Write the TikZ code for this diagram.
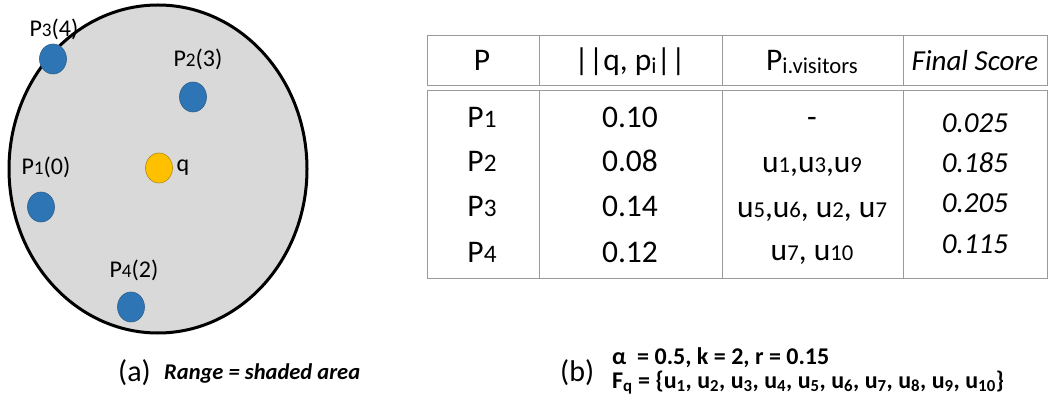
\documentclass[tikz,border=0pt]{standalone}
\usepackage{fontspec}
\setmainfont{Carlito}
\usepackage{graphicx}
\definecolor{dotblue}{HTML}{2E75B6}
\definecolor{dotblueline}{HTML}{2F5F8A}
\definecolor{qyellow}{HTML}{FFC000}
\definecolor{qline}{HTML}{B08A10}
\definecolor{rangegray}{HTML}{D9D9D9}
\definecolor{tabline}{HTML}{9A9A9A}
\newcommand{\dg}[1]{\scalebox{0.8}{#1}}
\newcommand{\dgs}[1]{\scalebox{0.72}{#1}}
\newcommand{\lw}[1]{\raisebox{-2.5pt}{\scalebox{0.72}{#1}}}
\begin{document}
\begin{tikzpicture}[x=1pt,y=-1pt,
  pdot/.style={fill=dotblue,draw=dotblueline,line width=0.6pt},
  qdot/.style={fill=qyellow,draw=qline,line width=0.6pt},
  plabel/.style={anchor=base,inner sep=0pt,font=\fontsize{24}{28}\selectfont},
  tabtext/.style={anchor=base,inner sep=0pt,font=\fontsize{31.5}{34}\selectfont},
  tabit/.style={anchor=base,inner sep=0pt,font=\fontsize{29}{34}\selectfont\itshape},
  tabbox/.style={draw=tabline,line width=0.8pt},
  capt/.style={anchor=base west,inner sep=0pt,font=\fontsize{30}{34}\selectfont},
  capb/.style={anchor=base west,inner sep=0pt,font=\fontsize{24}{28}\selectfont\bfseries}
]
\useasboundingbox (0,0) rectangle (1051,403);
% ---- (a) range ----
\draw[fill=rangegray,line width=3pt] (158,169) ellipse [x radius=149,y radius=164];
\path[pdot] (53,59) ellipse [x radius=13.5,y radius=15];
\path[pdot] (193,97) ellipse [x radius=13.5,y radius=15];
\path[pdot] (41,207) ellipse [x radius=13.5,y radius=15];
\path[pdot] (131,307) ellipse [x radius=13.5,y radius=15];
\path[qdot] (159,168) ellipse [x radius=13.5,y radius=15];
\node[plabel] (l3) at (54,37) {P\dg{3}(4)};
\node[plabel] (l2) at (198,67) {P\dg{2}(3)};
\node[plabel] (l1) at (46,175) {P\dg{1}(0)};
\node[plabel] (lq) at (183,172) {q};
\node[plabel] (l4) at (134,277) {P\dg{4}(2)};
% ---- (b) table ----
\draw[tabbox] (427,35) rectangle (1047,85);
\draw[tabbox] (539,35) -- (539,85) (722,35) -- (722,85) (903,35) -- (903,85);
\draw[tabbox] (427,90) rectangle (1047,278);
\draw[tabbox] (539,90) -- (539,278) (722,90) -- (722,278) (903,90) -- (903,278);
\node[tabtext] (h1) at (482,71) {P};
\node[tabtext] (h2) at (630,71) {||q, p\lw{i}||};
\node[tabtext] (h3) at (812,71) {P\lw{i.visitors}};
\node[tabit] (h4) at (975,71) {Final Score};
\node[tabtext] (a1) at (482,128) {P\dg{1}};
\node[tabtext] (a2) at (482,172) {P\dg{2}};
\node[tabtext] (a3) at (482,217) {P\dg{3}};
\node[tabtext] (a4) at (482,262) {P\dg{4}};
\node[tabtext] (b1) at (630,128) {0.10};
\node[tabtext] (b2) at (630,172) {0.08};
\node[tabtext] (b3) at (630,217) {0.14};
\node[tabtext] (b4) at (630,262) {0.12};
\node[tabtext] (c1) at (812,128) {-};
\node[tabtext] (c2) at (812,173) {u\dgs{1},u\dgs{3},u\dgs{9}};
\node[tabtext] (c3) at (812,218) {u\dgs{5},u\dgs{6}, u\dgs{2}, u\dgs{7}};
\node[tabtext] (c4) at (812,260) {u\dgs{7}, u\dgs{10}};
\node[tabit] (d1) at (975,133) {0.025};
\node[tabit] (d2) at (975,173) {0.185};
\node[tabit] (d3) at (975,213) {0.205};
\node[tabit] (d4) at (975,254) {0.115};
% ---- captions ----
\node[capt] (ca) at (118,381) {(a)};
\node[anchor=base west,inner sep=0pt,font=\fontsize{22.5}{26}\selectfont\bfseries\itshape] (cr) at (164,379) {Range = shaded area};
\node[capt] (cb) at (560,381) {(b)};
\node[capb] (p1) at (612,364) {α\ \ = 0.5, k = 2, r = 0.15};
\node[capb] (p2) at (612,388) {F\textsubscript{q} = \{u\textsubscript{1}, u\textsubscript{2}, u\textsubscript{3}, u\textsubscript{4}, u\textsubscript{5}, u\textsubscript{6}, u\textsubscript{7}, u\textsubscript{8}, u\textsubscript{9}, u\textsubscript{10}\}};
\end{tikzpicture}
\end{document}
